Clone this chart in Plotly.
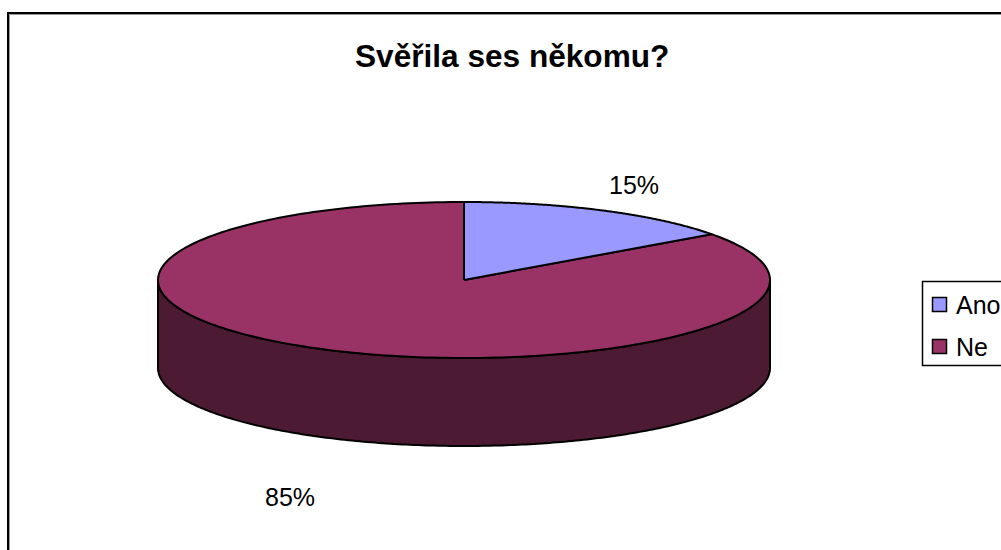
import numpy as np
import plotly.graph_objects as go

title = "Svěřila ses někomu?"
categories = ["Ano", "Ne"]
values = [15, 85]
colors = ["#9999FF", "#993366"]
side_color = "#4D1A33"
FONT = "Liberation Sans"

# Pie geometry in units of the horizontal radius
TILT = 78 / 306
DEPTH = 88 / 306
W, H = 1001, 550
CX, CY, RX = 464, 280, 306


def arc(a0, a1, n=240):
    t = np.radians(np.linspace(a0, a1, n))
    return np.sin(t), TILT * np.cos(t)


total = sum(values)
end_angles = np.cumsum(values) / total * 360
start_angles = np.concatenate([[0], end_angles[:-1]])

fig = go.Figure()

# Visible rim (front half only)
x, y = arc(90, 270)
fig.add_trace(go.Scatter(
    x=np.concatenate([x, x[::-1], x[:1]]), y=np.concatenate([y, y[::-1] - DEPTH, y[:1]]),
    mode="lines", fill="toself", fillcolor=side_color,
    line=dict(color="black", width=2, simplify=False), hoverinfo="skip", showlegend=False))

# Top faces: draw the large slice first so the small one sits above it
for i in np.argsort(values)[::-1]:
    x, y = arc(start_angles[i], end_angles[i])
    fig.add_trace(go.Scatter(
        x=np.concatenate([[0], x, [0]]), y=np.concatenate([[0], y, [0]]),
        mode="lines", fill="toself", fillcolor=colors[i], name=categories[i],
        line=dict(color="black", width=2, simplify=False), showlegend=False,
        hovertemplate=f"{categories[i]}: {values[i]}%<extra></extra>"))

# Percentage labels, pushed out along each slice's bisector
annotations = []
for i, (s, e) in enumerate(zip(start_angles, end_angles)):
    m = np.radians((s + e) / 2)
    f = 1.24
    lx, ly = f * np.sin(m) - 2 / RX, f * TILT * np.cos(m)
    ly += (9 / RX) if np.cos(m) > 0 else -(DEPTH + 43 / RX)
    annotations.append(dict(x=lx, y=ly, xref="x", yref="y", text=f"{values[i]}%",
                            xanchor="center", yanchor="middle", showarrow=False,
                            font=dict(family=FONT, size=25, color="black")))

annotations.append(dict(x=512 / W, y=1 - 56 / H, xref="paper", yref="paper", text=f"<b>{title}</b>",
                        xanchor="center", yanchor="middle", showarrow=False,
                        font=dict(family=FONT, size=31.6, color="black")))

# Chart frame (runs off the right and bottom of the picture)
shapes = [
    dict(type="rect", xref="paper", yref="paper", x0=9.5 / W, x1=1.1, y0=-0.1, y1=1 - 14.5 / H,
         line=dict(color="#999999", width=1), layer="below"),
    dict(type="rect", xref="paper", yref="paper", x0=8 / W, x1=1.1, y0=-0.1, y1=1 - 13 / H,
         line=dict(color="black", width=2), layer="below"),
    dict(type="rect", xref="paper", yref="paper", x0=922.5 / W, x1=1.05, y0=1 - 365.5 / H, y1=1 - 281.5 / H,
         fillcolor="white", line=dict(color="black", width=1.5)),
]

# Legend
for i, (cat, col) in enumerate(zip(categories, colors)):
    yc = 304.5 + 42 * i
    shapes.append(dict(type="rect", xref="paper", yref="paper", x0=932.5 / W, x1=946.5 / W,
                       y0=1 - (yc + 7) / H, y1=1 - (yc - 7) / H, fillcolor=col,
                       line=dict(color="black", width=1.5)))
    annotations.append(dict(x=954 / W, y=1 - yc / H, xref="paper", yref="paper", text=cat,
                            xanchor="left", yanchor="middle", showarrow=False,
                            font=dict(family=FONT, size=25, color="black")))

fig.update_layout(
    width=W, height=H, margin=dict(l=0, r=0, t=0, b=0, autoexpand=False),
    paper_bgcolor="white", plot_bgcolor="white", showlegend=False,
    xaxis=dict(range=[-CX / RX, (W - CX) / RX], visible=False, fixedrange=True),
    yaxis=dict(range=[(CY - H) / RX, CY / RX], visible=False, fixedrange=True),
    annotations=annotations, shapes=shapes,
)
fig.write_html("out.html", config=dict(displayModeBar=False),
               post_script="document.body.style.margin='0';document.body.style.overflow='hidden';")
